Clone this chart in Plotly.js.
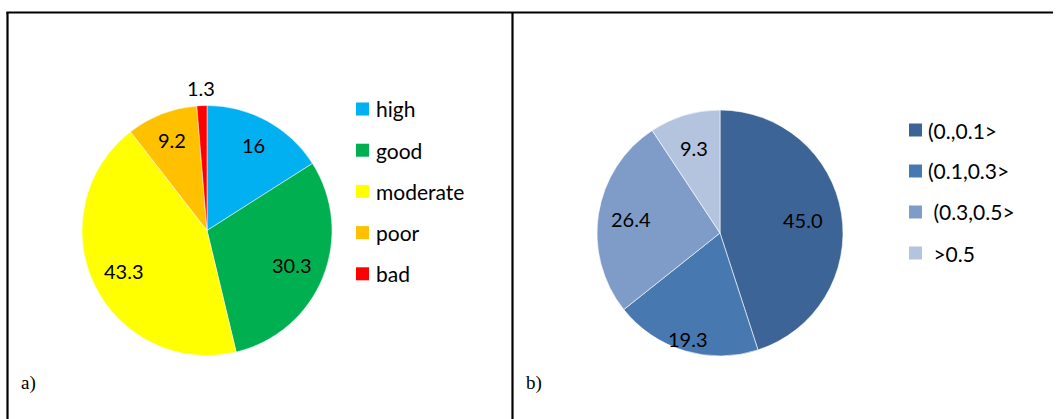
<!DOCTYPE html>
<html>
<head>
<meta charset="utf-8">
<script src="https://cdn.plot.ly/plotly-3.0.1.min.js"></script>
<style>html,body{margin:0;padding:0;background:#fff;}#chart{width:1056px;height:419px;}</style>
</head>
<body>
<div id="chart"></div>
<script>
// ---- data ----
var labelsA = ['high', 'good', 'moderate', 'poor', 'bad'];
var valuesA = [16, 30.3, 43.3, 9.2, 1.3];
var textA = ['16', '30.3', '43.3', '9.2', '1.3'];
var colorsA = ['#00B0F0', '#00B050', '#FFFF00', '#FFC000', '#FF0000'];

var labelsB = ['(0.,0.1>', '(0.1,0.3>', '\u00a0(0.3,0.5>', '\u00a0>0.5'];
var valuesB = [45.0, 19.3, 26.4, 9.3];
var textB = ['45.0', '19.3', '26.4', '9.3'];
var colorsB = ['#3D6496', '#4878B0', '#7F9CC8', '#B5C4DE'];

// ---- layout constants (pixels) ----
var W = 1056, H = 419;
var pieA = {cx: 207, cy: 230.5, r: 125, labelR: [0.78, 0.73, 0.74, 0.78, 1.14]};
var pieB = {cx: 720, cy: 233, r: 123, labelR: [0.68, 0.9, 0.73, 0.72]};
var legA = {x: 356, y0: 109, gap: 41.2, sq: 13, tx: 374};
var legB = {x: 909, y0: 130, gap: 41, sq: 13, tx: 926};
var FONT = 'Lato, "Open Sans", sans-serif';

function px(x) { return x / W; }
function py(y) { return 1 - y / H; }

function domainOf(p) {
  return {x: [px(p.cx - p.r), px(p.cx + p.r)], y: [py(p.cy + p.r), py(p.cy - p.r)]};
}

var traces = [
  {type: 'pie', labels: labelsA, values: valuesA, sort: false, direction: 'clockwise', rotation: 0,
   marker: {colors: colorsA, line: {color: '#ffffff', width: 0.5}}, textinfo: 'none', hoverinfo: 'label+value',
   showlegend: false, domain: domainOf(pieA)},
  {type: 'pie', labels: labelsB, values: valuesB, sort: false, direction: 'clockwise', rotation: 0,
   marker: {colors: colorsB, line: {color: '#ffffff', width: 0.6}}, textinfo: 'none', hoverinfo: 'label+value',
   showlegend: false, domain: domainOf(pieB)}
];

var annotations = [];
var shapes = [];

function addLabels(p, values, texts) {
  var total = values.reduce(function (a, b) { return a + b; }, 0);
  var cum = 0;
  values.forEach(function (v, i) {
    var mid = (cum + v / 2) / total * 2 * Math.PI;
    cum += v;
    var rr = p.r * p.labelR[i];
    var x = p.cx + rr * Math.sin(mid);
    var y = p.cy - rr * Math.cos(mid);
    annotations.push({xref: 'paper', yref: 'paper', x: px(x), y: py(y), xanchor: 'center', yanchor: 'middle',
      text: texts[i], showarrow: false, font: {family: FONT, size: 20, color: '#000000'}});
  });
}
addLabels(pieA, valuesA, textA);
addLabels(pieB, valuesB, textB);

function addLegend(l, labels, colors) {
  labels.forEach(function (lab, i) {
    var yc = l.y0 + i * l.gap;
    shapes.push({type: 'rect', xref: 'paper', yref: 'paper', x0: px(l.x), x1: px(l.x + l.sq),
      y0: py(yc + l.sq / 2), y1: py(yc - l.sq / 2), fillcolor: colors[i], line: {width: 0}});
    annotations.push({xref: 'paper', yref: 'paper', x: px(l.tx), y: py(yc), xanchor: 'left', yanchor: 'middle',
      text: lab, showarrow: false, font: {family: FONT, size: 21, color: '#000000'}});
  });
}
addLegend(legA, labelsA, colorsA);
addLegend(legB, labelsB, colorsB);

// panel captions
annotations.push({xref: 'paper', yref: 'paper', x: px(19), y: py(383), xanchor: 'left', yanchor: 'middle',
  text: 'a)', showarrow: false, font: {family: '"Liberation Serif", serif', size: 19, color: '#000'}});
annotations.push({xref: 'paper', yref: 'paper', x: px(524), y: py(383), xanchor: 'left', yanchor: 'middle',
  text: 'b)', showarrow: false, font: {family: '"Liberation Serif", serif', size: 19, color: '#000'}});

// frame lines
var lw = 2.2;
shapes.push({type: 'line', xref: 'paper', yref: 'paper', x0: px(6.5), x1: px(1053), y0: py(12.5), y1: py(12.5), line: {color: '#000', width: lw}});
shapes.push({type: 'line', xref: 'paper', yref: 'paper', x0: px(7.5), x1: px(7.5), y0: py(12), y1: py(420), line: {color: '#000', width: lw}});
shapes.push({type: 'line', xref: 'paper', yref: 'paper', x0: px(512.5), x1: px(512.5), y0: py(12), y1: py(420), line: {color: '#000', width: lw}});

var layout = {
  width: W, height: H,
  margin: {l: 0, r: 0, t: 0, b: 0},
  paper_bgcolor: '#ffffff', plot_bgcolor: '#ffffff',
  showlegend: false,
  annotations: annotations,
  shapes: shapes
};

Plotly.newPlot('chart', traces, layout, {displayModeBar: false, staticPlot: true});
</script>
</body>
</html>
